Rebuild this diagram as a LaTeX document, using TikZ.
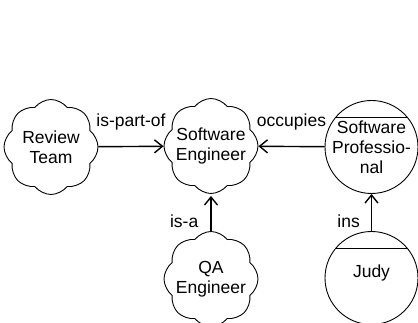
\documentclass[tikz,border=0pt]{standalone}
\usepackage{fontspec}
\setmainfont{Liberation Sans}
\usetikzlibrary{shapes.symbols,arrows.meta}

\begin{document}
\begin{tikzpicture}[x=1pt,y=-1pt,
    concept/.style={cloud, cloud puffs=8, cloud puff arc=105, aspect=1, draw,
      line width=0.9pt, minimum width=94pt, minimum height=95pt,
      inner sep=-8pt, align=center, font=\fontsize{17.5}{20.5}\selectfont},
    instance/.style={circle, draw, line width=0.9pt, minimum size=93pt,
      inner sep=-5pt, align=center, font=\fontsize{17.5}{20}\selectfont,
      path picture={\draw[line width=0.9pt]
        ([yshift=-16.5pt]path picture bounding box.north west) --
        ([yshift=-16.5pt]path picture bounding box.north east);}},
    rel/.style={-{Straight Barb[length=8pt,width=13pt]}, line width=1.4pt},
    rellabel/.style={font=\fontsize{17.5}{20.5}\selectfont, inner sep=1pt,
      text height=12pt, text depth=3.5pt}]
  \useasboundingbox (0,0) rectangle (418,323);

  % concepts
  \node[concept] (team) at (51,147) {Review\\Team};
  \node[concept] (eng) at (211,146) {Software\\Engineer};
  \node[concept] (qa) at (211,279) {QA\\Engineer};

  % instances
  \node[instance] (prof) at (371.5,147) {Software\\Professio-\\nal};
  \node[instance, text height=6pt, text depth=6pt] (judy) at (371.5,278) {Judy};

  % relations
  \draw[rel] (team) -- node[rellabel, midway, above=14.5pt] {is-part-of} (eng);
  \draw[rel] (prof) -- node[rellabel, midway, above=14.5pt] {occupies} (eng);
  \draw[rel, shorten >=2pt] (qa) -- node[rellabel, pos=0.22, left=11pt] {is-a} (eng);
  \draw[rel] (judy) -- node[rellabel, pos=0.22, left=10pt] {ins} (prof);
\end{tikzpicture}
\end{document}
